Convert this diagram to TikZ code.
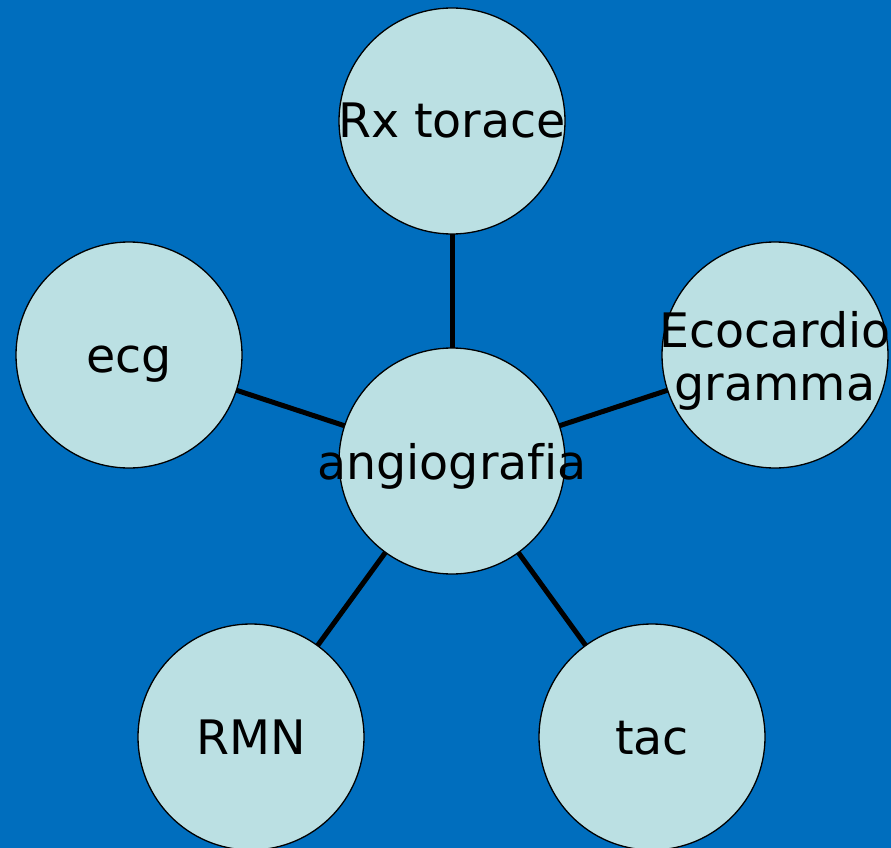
\documentclass[tikz,border=0pt]{standalone}
\usepackage{fontspec}
\setmainfont[Ligatures={NoCommon}]{DejaVu Sans}
\definecolor{slideblue}{RGB}{0,110,190}
\definecolor{bubble}{RGB}{187,224,227}
\pgfdeclarelayer{bg}
\pgfdeclarelayer{links}
\pgfsetlayers{bg,links,main}
\tikzset{
  bubblenode/.style={circle, draw=black, line width=1.3pt, fill=bubble,
    minimum size=226pt, inner sep=0pt},
  caption/.style={font=\fontsize{47.5}{53}\selectfont, text=black, align=center,
    inner sep=0pt, anchor=base},
  link/.style={draw=black, line width=5pt}
}
\begin{document}
\begin{tikzpicture}[x=1pt,y=-1pt]
  \begin{pgfonlayer}{bg}
    \fill[slideblue] (0,0) rectangle (891,848);
  \end{pgfonlayer}
  \useasboundingbox (0,0) rectangle (891,848);
  \clip (0,0) rectangle (891,848);

  \node[bubblenode] (hub) at (452,461) {};
  \node[bubblenode] (rx)  at (452,121) {};
  \node[bubblenode] (eco) at (775,355) {};
  \node[bubblenode] (ecg) at (129,355) {};
  \node[bubblenode] (rmn) at (251,737) {};
  \node[bubblenode] (tac) at (652,737) {};

  % captions sit on baselines slightly below each circle's centre
  % (for the two-line caption, base is the baseline of its last line)
  \node[caption] (thub) at ([yshift=-18pt]hub.center) {angiografia};
  \node[caption] (trx)  at ([yshift=-17pt]rx.center)  {Rx torace};
  \node[caption] (teco) at ([yshift=-45pt]eco.center) {Ecocardio\\gramma};
  \node[caption] (tecg) at ([yshift=-17pt]ecg.center) {ecg};
  \node[caption] (trmn) at ([yshift=-17pt]rmn.center) {RMN};
  \node[caption] (ttac) at ([yshift=-17pt]tac.center) {tac};

  \begin{pgfonlayer}{links}
    \foreach \n in {rx,eco,ecg,rmn,tac}
      \draw[link] (hub.center) -- (\n.center);
  \end{pgfonlayer}
\end{tikzpicture}
\end{document}
